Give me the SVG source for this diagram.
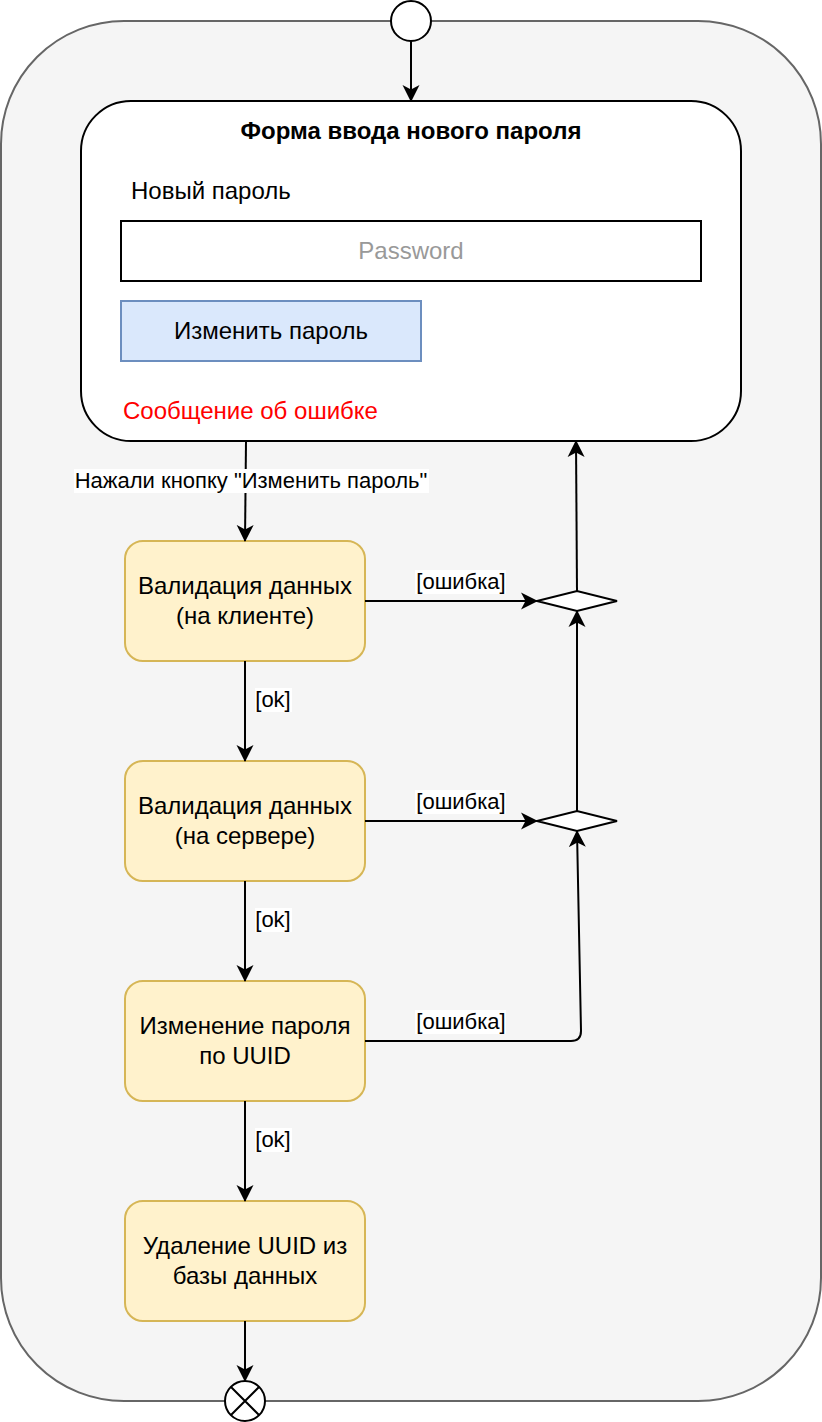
<svg xmlns="http://www.w3.org/2000/svg" width="822" height="1422" viewBox="0 0 822 1422">
<style>
text{font-family:"Liberation Sans",Arial,sans-serif;fill:#000}
.t24{font-size:24px}
.t22{font-size:22px}
.act{fill:#fff2cc;stroke:#d6b656;stroke-width:2}
.edge{fill:none;stroke:#000;stroke-width:2}
.lbl{fill:#fff}
</style>
<defs>
<marker id="arr" viewBox="0 0 18 18" refX="16" refY="9" markerWidth="18" markerHeight="18" markerUnits="userSpaceOnUse" orient="auto">
<path d="M0,0.5 L17,9 L0,17.5 L4.5,9 Z" fill="#000"/>
</marker>
</defs>
<g id="container">
<rect x="1" y="21" width="820" height="1380" rx="123" ry="123" fill="#f5f5f5" stroke="#666666" stroke-width="2"/>
</g>
<g id="start">
<circle cx="411" cy="21" r="20" fill="#fff" stroke="#000" stroke-width="2"/>
</g>
<g id="form">
<rect x="81" y="101" width="660" height="340" rx="50" ry="50" fill="#fff" stroke="#000" stroke-width="2"/>
<text x="411" y="139" text-anchor="middle" class="t24" font-weight="bold">Форма ввода нового пароля</text>
<text x="131" y="199" class="t24">Новый пароль</text>
<rect x="121" y="221" width="580" height="60" fill="#fff" stroke="#000" stroke-width="2"/>
<text x="411" y="259" text-anchor="middle" class="t24" style="fill:#999999">Password</text>
<rect x="121" y="301" width="300" height="60" fill="#dae8fc" stroke="#6c8ebf" stroke-width="2"/>
<text x="271" y="339" text-anchor="middle" class="t24">Изменить пароль</text>
<text x="123" y="419" class="t24" style="fill:#ff0000">Сообщение об ошибке</text>
</g>
<g id="val-client">
<rect class="act" x="125" y="541" width="240" height="120" rx="18" ry="18"/>
<text x="245" y="594" text-anchor="middle" class="t24">Валидация данных</text>
<text x="245" y="624" text-anchor="middle" class="t24">(на клиенте)</text>
</g>
<g id="val-server">
<rect class="act" x="125" y="761" width="240" height="120" rx="18" ry="18"/>
<text x="245" y="814" text-anchor="middle" class="t24">Валидация данных</text>
<text x="245" y="844" text-anchor="middle" class="t24">(на сервере)</text>
</g>
<g id="change">
<rect class="act" x="125" y="981" width="240" height="120" rx="18" ry="18"/>
<text x="245" y="1034" text-anchor="middle" class="t24">Изменение пароля</text>
<text x="245" y="1064" text-anchor="middle" class="t24">по UUID</text>
</g>
<g id="delete">
<rect class="act" x="125" y="1201" width="240" height="120" rx="18" ry="18"/>
<text x="245" y="1254" text-anchor="middle" class="t24">Удаление UUID из</text>
<text x="245" y="1284" text-anchor="middle" class="t24">базы данных</text>
</g>
<g id="merge1">
<path d="M537,601 L577,591 L617,601 L577,611 Z" fill="#fff" stroke="#000" stroke-width="2"/>
</g>
<g id="merge2">
<path d="M537,821 L577,811 L617,821 L577,831 Z" fill="#fff" stroke="#000" stroke-width="2"/>
</g>
<g id="end">
<circle cx="245" cy="1401" r="20" fill="#fff" stroke="#000" stroke-width="2"/>
<path d="M231,1387 L259,1415 M259,1387 L231,1415" stroke="#000" stroke-width="2"/>
</g>
<g id="connectors">
<path class="edge" d="M411,41 L411,101" marker-end="url(#arr)"/>
<path class="edge" d="M246,441 L245,541" marker-end="url(#arr)"/>
<rect class="lbl" x="74" y="469" width="355" height="24"/>
<text x="251" y="488" text-anchor="middle" class="t22">Нажали кнопку "Изменить пароль"</text>
<path class="edge" d="M365,601 L537,601" marker-end="url(#arr)"/>
<rect class="lbl" x="415" y="570" width="91" height="24"/>
<text x="461" y="589" text-anchor="middle" class="t22">[ошибка]</text>
<path class="edge" d="M577,591 L576,441" marker-end="url(#arr)"/>
<path class="edge" d="M365,821 L537,821" marker-end="url(#arr)"/>
<rect class="lbl" x="415" y="790" width="91" height="24"/>
<text x="461" y="809" text-anchor="middle" class="t22">[ошибка]</text>
<path class="edge" d="M577,811 L577,611" marker-end="url(#arr)"/>
<path class="edge" d="M365,1041 L571,1041 Q581,1041 581,1031 L577,831" marker-end="url(#arr)"/>
<rect class="lbl" x="415" y="1010" width="91" height="24"/>
<text x="461" y="1029" text-anchor="middle" class="t22">[ошибка]</text>
<path class="edge" d="M245,661 L245,761" marker-end="url(#arr)"/>
<rect class="lbl" x="255" y="688" width="37" height="24"/>
<text x="273" y="707" text-anchor="middle" class="t22">[ok]</text>
<path class="edge" d="M245,881 L245,981" marker-end="url(#arr)"/>
<rect class="lbl" x="255" y="908" width="37" height="24"/>
<text x="273" y="927" text-anchor="middle" class="t22">[ok]</text>
<path class="edge" d="M245,1101 L245,1201" marker-end="url(#arr)"/>
<rect class="lbl" x="255" y="1128" width="37" height="24"/>
<text x="273" y="1147" text-anchor="middle" class="t22">[ok]</text>
<path class="edge" d="M245,1321 L245,1381" marker-end="url(#arr)"/>
</g>
</svg>
